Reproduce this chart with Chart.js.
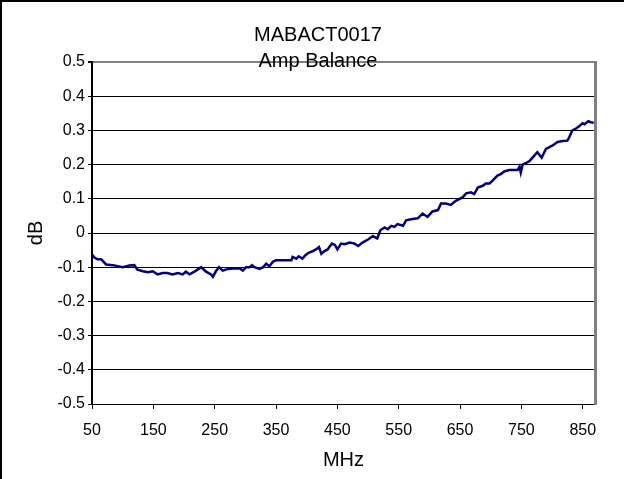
<!DOCTYPE html>
<html>
<head>
<meta charset="utf-8">
<script src="https://cdn.jsdelivr.net/npm/chart.js@4.4.1/dist/chart.umd.min.js"></script>
<style>
  html, body { margin: 0; padding: 0; background: #fff; }
  #wrap { position: relative; width: 624px; height: 479px; }
  #frame { position: absolute; left: 0; top: 0; width: 624px; height: 479px; box-sizing: border-box;
           border-left: 2px solid #000; border-top: 2px solid #000; pointer-events: none; }
</style>
</head>
<body>
<div id="wrap">
  <canvas id="chart" width="624" height="479"></canvas>
  <div id="frame"></div>
</div>
<script>
// measured amp balance, MHz vs dB
const freqMHz = [50, 54, 59, 65, 73, 84, 92, 100, 111, 119, 124, 133, 141, 149, 157, 165, 173, 181, 190, 198,
  203, 209, 217, 228, 236, 244, 247, 252, 257, 263, 272, 280, 291, 296, 301, 307, 311, 315, 323, 329,
  334, 339, 345, 350, 375, 377, 383, 387, 393, 398, 403, 410, 415, 420, 424, 429, 434, 441, 446, 450,
  456, 462, 470, 478, 484, 491, 500, 508, 515, 520, 527, 532, 538, 543, 548, 557, 562, 570, 581, 589,
  597, 605, 614, 619, 627, 635, 643, 654, 660, 668, 673, 679, 687, 692, 698, 703, 711, 717, 722, 730,
  744, 747, 749, 752, 757, 763, 771, 776, 783, 790, 801, 809, 817, 825, 828, 833, 839, 844, 850, 853,
  859, 863, 868];
const ampDb = [-0.063, -0.072, -0.077, -0.077, -0.092, -0.094, -0.097, -0.100, -0.095, -0.094, -0.107, -0.112, -0.115, -0.112, -0.121, -0.117, -0.117, -0.121, -0.117, -0.121,
  -0.113, -0.121, -0.113, -0.100, -0.113, -0.121, -0.128, -0.112, -0.100, -0.110, -0.105, -0.104, -0.104, -0.110, -0.100, -0.100, -0.094, -0.100, -0.105, -0.100,
  -0.090, -0.097, -0.084, -0.080, -0.080, -0.070, -0.075, -0.068, -0.075, -0.065, -0.058, -0.053, -0.048, -0.041, -0.061, -0.053, -0.048, -0.031, -0.035, -0.048,
  -0.031, -0.033, -0.028, -0.031, -0.038, -0.028, -0.019, -0.009, -0.016, 0.008, 0.016, 0.011, 0.021, 0.018, 0.026, 0.021, 0.037, 0.040, 0.043, 0.057,
  0.047, 0.063, 0.067, 0.086, 0.086, 0.082, 0.094, 0.104, 0.116, 0.119, 0.114, 0.133, 0.138, 0.145, 0.145, 0.153, 0.168, 0.173, 0.180, 0.184,
  0.184, 0.194, 0.177, 0.200, 0.204, 0.210, 0.226, 0.236, 0.220, 0.246, 0.256, 0.266, 0.269, 0.270, 0.280, 0.300, 0.305, 0.312, 0.321, 0.318,
  0.327, 0.324, 0.322];

const xTicks = [50, 150, 250, 350, 450, 550, 650, 750, 850];
const yTicks = [-0.5, -0.4, -0.3, -0.2, -0.1, 0, 0.1, 0.2, 0.3, 0.4, 0.5];

const font = 'Arial, "Liberation Sans", sans-serif';

new Chart(document.getElementById('chart'), {
  type: 'line',
  data: {
    datasets: [{
      data: freqMHz.map((f, i) => ({ x: f, y: ampDb[i] })),
      borderColor: '#000080',
      borderWidth: 2.5,
      pointRadius: 0,
      tension: 0
    }]
  },
  options: {
    responsive: false,
    animation: false,
    layout: { padding: { left: 12, right: 0, top: 0, bottom: 0 } },
    plugins: {
      legend: { display: false },
      tooltip: { enabled: false },
      title: {
        display: true,
        text: ['MABACT0017', 'Amp Balance'],
        color: '#000',
        font: { family: font, size: 20, weight: 'normal', lineHeight: 26 / 20 },
        padding: { top: 22, bottom: -12 }
      }
    },
    scales: {
      x: {
        type: 'linear',
        min: 50,
        max: 870,
        afterBuildTicks: axis => { axis.ticks = xTicks.map(v => ({ value: v })); },
        afterFit: axis => { axis.height = 75; },
        ticks: { color: '#000', font: { family: font, size: 16 }, padding: 12, maxRotation: 0, autoSkip: false },
        grid: { drawOnChartArea: false, tickLength: 5, color: '#000' },
        border: { color: '#000', width: 1 },
        title: { display: true, text: 'MHz', color: '#000', font: { family: font, size: 20 }, padding: { top: 0, bottom: 7 } }
      },
      y: {
        min: -0.5,
        max: 0.5,
        afterBuildTicks: axis => { axis.ticks = yTicks.map(v => ({ value: v })); },
        afterFit: axis => { axis.width = 80; },
        ticks: {
          color: '#000', font: { family: font, size: 16 }, padding: 3,
          callback: v => String(Number(v.toFixed(1)))
        },
        grid: {
          color: c => (c.tick && c.tick.value === 0.5 ? '#808080' : '#000'),
          lineWidth: c => (c.tick && c.tick.value === 0.5 ? 2 : 1),
          tickColor: '#000',
          tickLength: 4
        },
        border: { color: '#000', width: 2 },
        title: { display: true, text: 'dB', color: '#000', font: { family: font, size: 20 }, padding: { top: 12, bottom: 0 } }
      },
      yRight: {
        position: 'right',
        min: -0.5,
        max: 0.5,
        afterFit: axis => { axis.width = 29; },
        ticks: { display: false },
        grid: { display: false },
        border: { color: '#808080', width: 3 }
      }
    }
  }
});
</script>
</body>
</html>
